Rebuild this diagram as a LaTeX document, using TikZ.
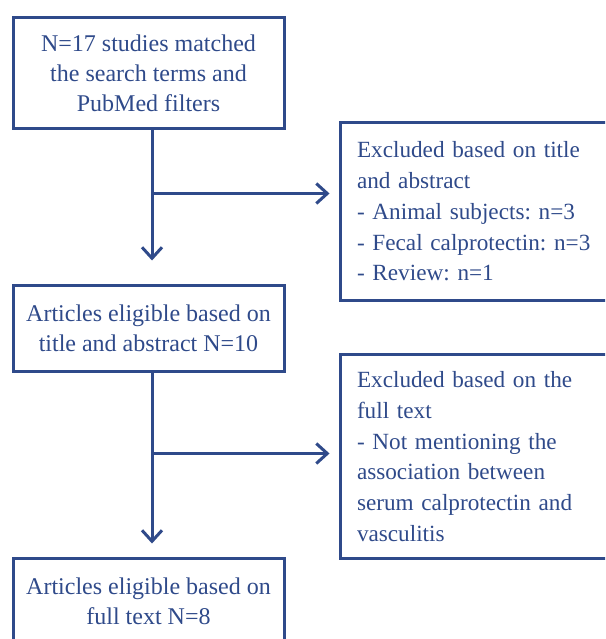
\documentclass[tikz,border=0pt]{standalone}
\usepackage{fontspec}
\setmainfont{Liberation Serif}
\usetikzlibrary{arrows.meta,calc}
\definecolor{flowblue}{HTML}{2F4A8A}
\frenchspacing
\begin{document}
\begin{tikzpicture}[x=1pt,y=-1pt,
  box/.style={draw=flowblue,line width=3pt,rectangle,inner sep=0pt,
    text=flowblue,font=\fontsize{24}{30}\selectfont},
  mainbox/.style={box,minimum width=271pt,align=center},
  sidebox/.style={box,anchor=west,minimum width=362pt,text width=328pt,
    align=left,font=\fontsize{23.2}{30.75}\selectfont},
  flow/.style={draw=flowblue,line width=3pt,
    -{Straight Barb[length=11pt,width=20pt]}}]
\useasboundingbox (0,0) rectangle (605,639);
\clip (0,0) rectangle (605,639);

% main column
\node[mainbox,minimum height=111pt] (b1) at (148.5,73.5)
  {N=17 studies matched\\the search terms and\\PubMed filters};
\node[mainbox,minimum height=86pt] (b2) at (148.5,328)
  {Articles eligible based on\\title and abstract N=10};
\node[mainbox,minimum height=86pt,anchor=north] (b3) at (148.5,556.5)
  {Articles eligible based on\\full text N=8};

% exclusion boxes on the right
\node[sidebox,minimum height=178pt] (x1) at (338.5,211.5)
  {Excluded based on title\\and abstract\\- Animal subjects: n=3\\- Fecal calprotectin: n=3\\- Review: n=1};
\node[sidebox,minimum height=204pt] (x2) at (338.5,456.5)
  {Excluded based on the\\full text\\- Not mentioning the\\association between\\serum calprotectin and\\vasculitis};

% branch points on the vertical flow
\coordinate (j1) at ($(b1.south)+(3.5,63)$);
\coordinate (j2) at ($(b2.south)+(3.5,81)$);

\draw[flow,shorten >=23pt] ($(b1.south)+(3.5,0)$) -- ($(b2.north)+(3.5,0)$);
\draw[flow,shorten >=9pt] (j1) -- (j1 -| x1.west);
\draw[flow,shorten >=13pt] ($(b2.south)+(3.5,0)$) -- ($(b3.north)+(3.5,0)$);
\draw[flow,shorten >=9pt] (j2) -- (j2 -| x2.west);
\end{tikzpicture}
\end{document}
